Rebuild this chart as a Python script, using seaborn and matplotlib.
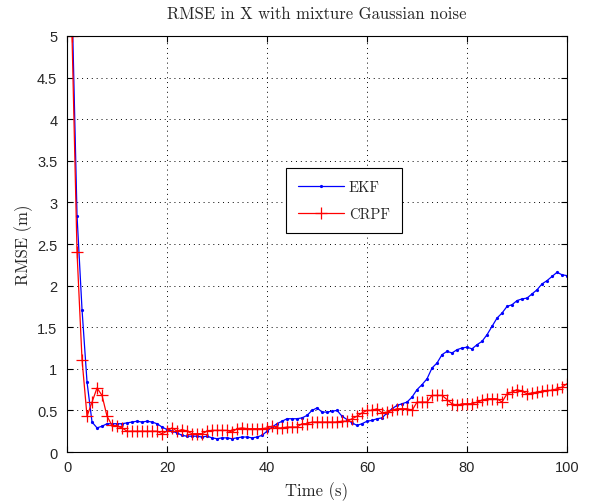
import numpy as np
import pandas as pd
import matplotlib
matplotlib.use("Agg")
import matplotlib.pyplot as plt
import seaborn as sns

time_s = list(range(1, 101))
ekf = [5.4, 2.84, 1.71, 0.84, 0.36, 0.29, 0.31, 0.34, 0.34, 0.34,
       0.34, 0.35, 0.36, 0.37, 0.36, 0.37, 0.36, 0.34, 0.30, 0.27,
       0.25, 0.23, 0.20, 0.19, 0.19, 0.19, 0.18, 0.19, 0.17, 0.16,
       0.17, 0.17, 0.16, 0.17, 0.18, 0.18, 0.17, 0.18, 0.20, 0.25,
       0.30, 0.34, 0.37, 0.40, 0.40, 0.40, 0.41, 0.44, 0.50, 0.53,
       0.48, 0.48, 0.49, 0.50, 0.43, 0.39, 0.35, 0.32, 0.34, 0.37,
       0.38, 0.40, 0.41, 0.47, 0.52, 0.56, 0.58, 0.60, 0.66, 0.75,
       0.81, 0.88, 1.01, 1.07, 1.17, 1.21, 1.19, 1.23, 1.25, 1.26,
       1.24, 1.29, 1.33, 1.41, 1.51, 1.61, 1.67, 1.75, 1.77, 1.82,
       1.84, 1.85, 1.90, 1.95, 2.02, 2.06, 2.11, 2.16, 2.13, 2.12]
crpf = [5.0, 2.40, 1.11, 0.43, 0.60, 0.77, 0.68, 0.43, 0.32, 0.31,
        0.29, 0.25, 0.25, 0.25, 0.25, 0.25, 0.25, 0.25, 0.22, 0.25,
        0.29, 0.25, 0.27, 0.25, 0.22, 0.22, 0.22, 0.25, 0.26, 0.26,
        0.26, 0.26, 0.24, 0.28, 0.29, 0.28, 0.28, 0.28, 0.28, 0.29,
        0.31, 0.29, 0.29, 0.30, 0.30, 0.30, 0.34, 0.34, 0.36, 0.36,
        0.36, 0.36, 0.36, 0.36, 0.37, 0.37, 0.40, 0.43, 0.47, 0.50,
        0.50, 0.52, 0.47, 0.48, 0.50, 0.52, 0.52, 0.52, 0.50, 0.60,
        0.60, 0.60, 0.68, 0.68, 0.68, 0.63, 0.58, 0.56, 0.58, 0.58,
        0.58, 0.60, 0.62, 0.64, 0.64, 0.64, 0.60, 0.70, 0.72, 0.75,
        0.73, 0.70, 0.71, 0.72, 0.73, 0.74, 0.74, 0.76, 0.78, 0.82]
x_ticks = [0, 20, 40, 60, 80, 100]
y_ticks = [0, 0.5, 1, 1.5, 2, 2.5, 3, 3.5, 4, 4.5, 5]
y_tick_labels = ["0", "0.5", "1", "1.5", "2", "2.5", "3", "3.5", "4", "4.5", "5"]

sns.set_style("white")
plt.rcParams["font.family"] = ["cmr10", "DejaVu Serif"]
plt.rcParams["axes.formatter.use_mathtext"] = True

df = pd.DataFrame({"t": time_s, "EKF": ekf, "CRPF": crpf})

fig = plt.figure(figsize=(5.89, 5.02), dpi=100)
ax = fig.add_axes([0.1138, 0.0976, 0.8489, 0.8287])

sns.lineplot(data=df, x="t", y="EKF", ax=ax, color="blue", linewidth=0.9,
             marker="o", markersize=2.3, markeredgewidth=0,
             markerfacecolor="blue", label="EKF")
sns.lineplot(data=df, x="t", y="CRPF", ax=ax, color="red", linewidth=0.9,
             marker="+", markersize=8, markeredgewidth=0.9,
             markeredgecolor="red", markerfacecolor="red", label="CRPF")

ax.set_xlim(0, 100)
ax.set_ylim(0, 5)
ax.set_xticks(x_ticks)
ax.set_xticklabels([str(v) for v in x_ticks])
ax.set_yticks(y_ticks)
ax.set_yticklabels(y_tick_labels)
for lbl in ax.get_xticklabels() + ax.get_yticklabels():
    lbl.set_fontfamily(["Liberation Sans", "DejaVu Sans"])
    lbl.set_fontsize(10.5)
ax.grid(True, linestyle=(0, (1, 4)), color="black", linewidth=0.7)
for s in ax.spines.values():
    s.set_visible(True)
    s.set_color("black")
    s.set_linewidth(0.8)
ax.tick_params(direction="in", length=4, top=True, right=True,
               bottom=True, left=True, color="black")
ax.tick_params(axis="x", pad=6)
ax.tick_params(axis="y", pad=7)
ax.set_title("RMSE in X with mixture Gaussian noise", fontsize=12, pad=13)
ax.set_xlabel("Time (s)", fontsize=12, labelpad=5)
ax.set_ylabel("RMSE (m)", fontsize=12, labelpad=3)

leg = ax.legend(loc="upper left", bbox_to_anchor=(0.438, 0.683), fontsize=10.5,
                frameon=True, fancybox=False, edgecolor="black",
                framealpha=1, handlelength=3.1, borderpad=0.85, labelspacing=0.9,
                handletextpad=0.35, borderaxespad=0)
leg.get_frame().set_linewidth(0.8)

fig.savefig("out.png", dpi=100, facecolor="white")
